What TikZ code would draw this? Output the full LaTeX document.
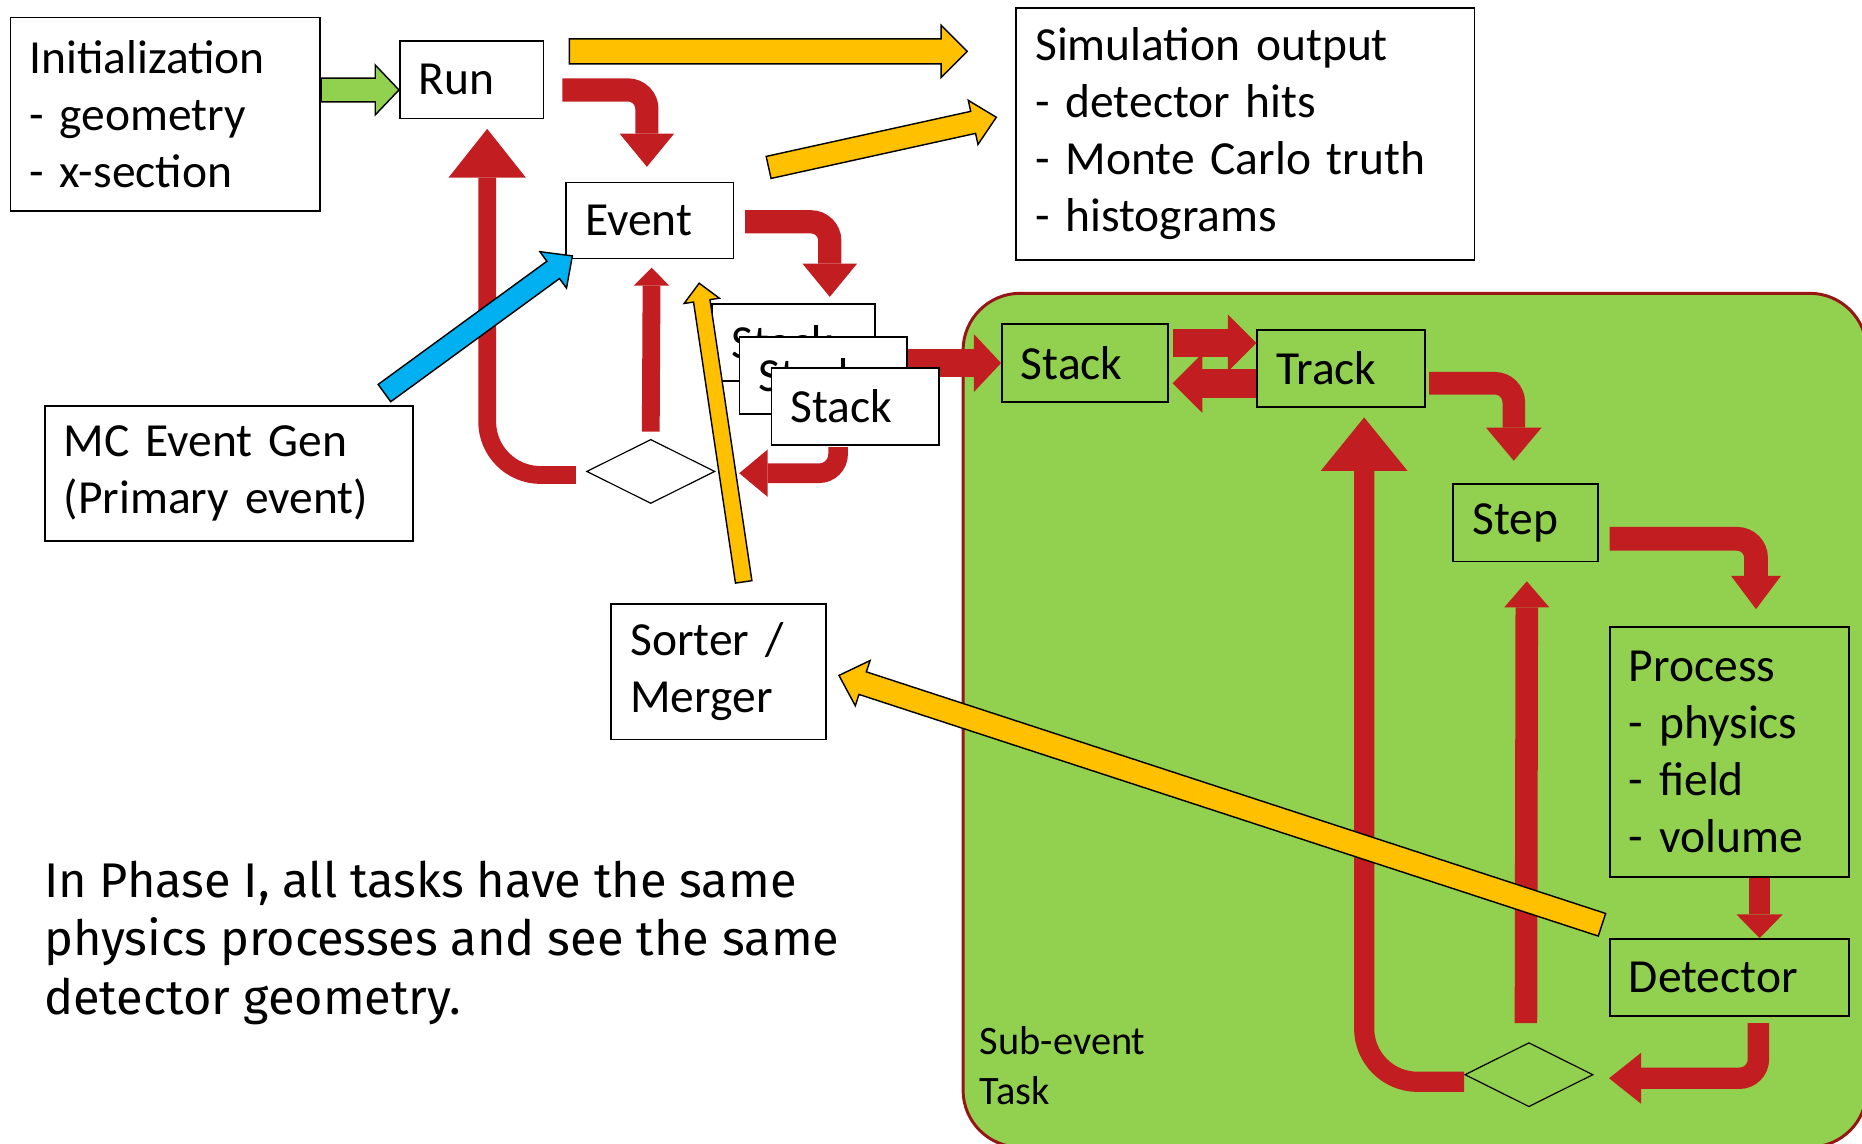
\documentclass[tikz,border=0pt]{standalone}
\usepackage{fontspec}
\setmainfont{Carlito}
\newfontfamily\notefont{Fira Sans}
\usetikzlibrary{calc,arrows.meta,shapes.geometric}

\definecolor{arrowred}{RGB}{194,30,34}
\definecolor{regiongreen}{RGB}{146,208,80}
\definecolor{regionedge}{RGB}{150,22,22}
\definecolor{amber}{RGB}{255,192,0}
\definecolor{skyblue}{RGB}{0,176,240}

% block arrow as a polygon: [style]{tail}{tip}{half shaft}{half head}{head length}
\newcommand\fatarrow[6][]{%
  \coordinate (fahead) at ($(#3)!#6!(#2)$);
  \draw[#1] ($(#2)!#4!90:(#3)$) -- ($(fahead)!#4!90:(#3)$)
    -- ($(fahead)!#5!90:(#3)$) -- (#3) -- ($(fahead)!#5!-90:(#3)$)
    -- ($(fahead)!#4!-90:(#3)$) -- ($(#2)!#4!-90:(#3)$) -- cycle;}

\begin{document}
\begin{tikzpicture}[x=1pt, y=-1pt,
    box/.style={draw, line width=1.5pt, fill=white, anchor=north west, align=left,
      inner xsep=16pt, inner ysep=0pt, font=\fontsize{40}{48}\selectfont},
    gbox/.style={box, fill=none},
    dia/.style={diamond, draw, line width=1pt, inner sep=0pt,
      minimum width=108pt, minimum height=54pt},
    flow/.style n args={3}{draw=arrowred, line width=#1,
      -{Triangle[length=#3 0 0, width=#2 0 0, line width=0pt 0 0]}},
    fat/.style={draw=black, line width=1.2pt, line join=miter, fill=#1}
  ]
  \useasboundingbox (0,0) rectangle (1568,963);
  \clip (0,0) rectangle (1568,963);

  % sub-event task area
  \draw[fill=regiongreen, draw=regionedge, line width=2.5pt, rounded corners=48pt]
    (811,247) rectangle (1572,966);

  \node[box, text width=229pt, minimum height=163pt] (init) at (8,14)
    {Initialization\\- geometry\\- x-section};
  \node[box, text width=89pt, minimum height=65pt] (run) at (336,34) {Run};
  \node[box, text width=109pt, minimum height=64pt] (event) at (476,153) {Event};
  \node[box, text width=354pt, minimum height=212pt] (simout) at (855,6)
    {Simulation output\\- detector hits\\- Monte Carlo truth\\- histograms};
  \node[box, text width=278pt, minimum height=114pt] (mcgen) at (37,341)
    {MC Event Gen\\(Primary event)};
  \node[box, text width=149pt, minimum height=114pt] (sorter) at (514,508)
    {Sorter /\\Merger};
  \node[box, text width=105pt, minimum height=65pt] (stacka) at (599,255) {Stack};
  \node[box, text width=109pt, minimum height=65pt] (stackb) at (622,283) {Stack};

  \node[gbox, text width=108pt, minimum height=66pt] (gstack) at (843,272) {Stack};
  \node[gbox, text width=109pt, minimum height=65pt] (track) at (1058,277) {Track};
  \node[gbox, text width=90pt, minimum height=65pt] (step) at (1223,407) {Step};
  \node[gbox, text width=169pt, minimum height=211pt] (process) at (1355,527)
    {Process\\- physics\\- field\\- volume};
  \node[gbox, text width=169pt, minimum height=65pt] (detector) at (1355,790) {Detector};
  \node[dia] (diaA) at (548,397) {};
  \node[dia] (diaB) at (1287.5,905) {};

  \node[anchor=west, inner sep=0pt, align=left, font=\fontsize{34}{42}\selectfont]
    (subtask) at (825,897) {Sub-event\\Task};
  \node[anchor=west, inner sep=0pt, align=left, font=\notefont\fontsize{41}{49}\selectfont]
    (note) at (37,794)
    {In Phase I, all tasks have the same\\physics processes and see the same\\detector geometry.};

  % red flow arrows
  \coordinate (r1a) at ($(run.east)+(15,8.5)$);
  \coordinate (r1b) at ($(event.north)+(-2.5,-12.5)$);
  \coordinate (r2a) at ($(event.east)+(9,1)$);
  \coordinate (r2b) at ($(stacka.north)+(30.5,-5)$);
  \coordinate (r3a) at (stackb.east |- gstack.west);
  \coordinate (r4a) at ($(gstack.east)+(3,-17)$);
  \coordinate (r5a) at ($(track.west)+(0,12.5)$);
  \coordinate (r6a) at ($(track.east)+(3,12.5)$);
  \coordinate (r6b) at ($(step.north)+(-10,-19)$);
  \coordinate (r7a) at ($(step.east)+(9,13.5)$);
  \coordinate (r7b) at ($(process.north)+(22.5,-14)$);
  \coordinate (r9a) at ($(detector.south)+(24.5,5)$);
  \coordinate (r9b) at ($(diaB.east)+(13,3)$);
  \coordinate (r10a) at ($(diaB.west)+(0,6)$);
  \coordinate (r10b) at ($(track.south)+(19.5,8)$);
  \coordinate (r11a) at ($(diaB.north)+(-2.5,-16)$);
  \coordinate (r11b) at ($(step.south)+(1,16)$);
  \coordinate (r12a) at ($(diaA.west)+(-8.5,3)$);
  \coordinate (r12b) at ($(run.south)+(13,8)$);
  \coordinate (r13a) at ($(diaA.north)+(0,-6)$);
  \coordinate (r13b) at ($(event.south)+(1.5,7)$);

  \draw[flow={19.5pt}{46pt}{28pt}, rounded corners=16pt] (r1a) -| (r1b);
  \draw[flow={19.5pt}{46pt}{28pt}, rounded corners=16pt] (r2a) -| (r2b);
  \draw[flow={24pt}{49pt}{23pt}] (r3a) -- (gstack.west);
  \draw[flow={24pt}{48pt}{24pt}] (r4a) -- (track.west |- r4a);
  \draw[flow={24pt}{50pt}{25pt}] (r5a) -- (r4a |- r5a);
  \draw[flow={19pt}{47pt}{28pt}, rounded corners=16pt] (r6a) -| (r6b);
  \draw[flow={20pt}{42pt}{28pt}, rounded corners=16pt] (r7a) -| (r7b);
  \draw[flow={18pt}{39pt}{20pt}] ($(process.south)+(25.5,0)$) -- ($(detector.north)+(25.5,0)$);
  \draw[flow={18pt}{43pt}{27pt}, rounded corners=16pt] (r9a) |- (r9b);
  \draw[flow={17pt}{73pt}{45pt}, rounded corners=45pt] (r10a) -| (r10b);
  \draw[flow={19pt}{38pt}{22pt}] (r11a) -- (r11b);
  \draw[flow={15pt}{65pt}{41pt}, rounded corners=45pt] (r12a) -| (r12b);
  \draw[flow={15pt}{30pt}{15pt}] (r13a) -- (r13b);

  \node[box, text width=109pt, minimum height=65pt] (stackc) at (649,309) {Stack};
  \coordinate (r14a) at ($(stackc.south)+(-14.5,1)$);
  \coordinate (r14b) at ($(diaA.east)+(20,1.5)$);
  \draw[flow={16.5pt}{40pt}{24pt}, rounded corners=16pt] (r14a) |- (r14b);

  % outlined block arrows
  \coordinate (gtail) at ($(init.east)+(0,-20.5)$);
  \coordinate (gtip) at ($(run.west)+(0,8.5)$);
  \coordinate (ya) at ($(run.east)+(21,-24)$);
  \coordinate (yb) at ($(ya)+(335,0)$);
  \coordinate (yc) at ($(event.north)+(100,-12)$);
  \coordinate (yd) at ($(simout.west)+(-16,-14)$);
  \coordinate (ba) at ($(mcgen.north)+(131,-10)$);
  \coordinate (bb) at ($(event.south west)+(6,-3)$);
  \coordinate (yf) at ($(detector.west)+(-6,-44.5)$);
  \coordinate (ye) at ($(sorter.east)+(10,3)$);
  \coordinate (yg) at ($(sorter.north)+(21,-18)$);
  \coordinate (yh) at ($(event.south)+(41.5,20)$);

  \fatarrow[fat=regiongreen]{gtail}{gtip}{10pt}{21pt}{20pt}
  \fatarrow[fat=amber]{ya}{yb}{10.5pt}{22pt}{22pt}
  \fatarrow[fat=amber]{yc}{yd}{9.5pt}{19pt}{20pt}
  \fatarrow[fat=skyblue]{ba}{bb}{9pt}{19pt}{20pt}
  \fatarrow[fat=amber]{yf}{ye}{10pt}{20pt}{21pt}
  \fatarrow[fat=amber]{yg}{yh}{7pt}{15pt}{15pt}
\end{tikzpicture}
\end{document}
